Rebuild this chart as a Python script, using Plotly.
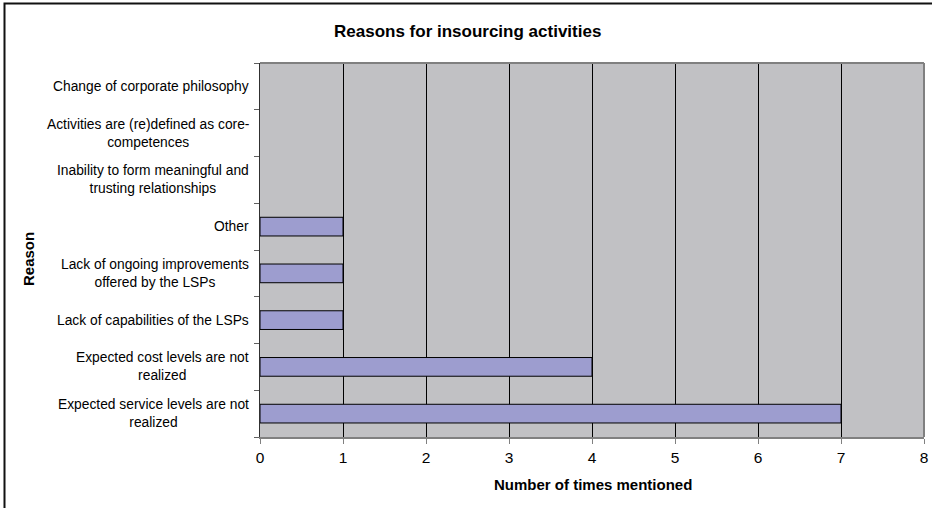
import plotly.graph_objects as go

# Reasons, listed bottom to top as they appear on the category axis
reasons = [
    "Expected service levels are not<br>realized",
    "Expected cost levels are not<br>realized",
    "Lack of capabilities of the LSPs",
    "Lack of ongoing improvements<br>offered by the LSPs",
    "Other",
    "Inability to form meaningful and<br>trusting relationships",
    "Activities are (re)defined as core-<br>competences",
    "Change of corporate philosophy",
]
mentions = [7, 4, 1, 1, 1, 0, 0, 0]
x_ticks = [0, 1, 2, 3, 4, 5, 6, 7, 8]

FONT = "Liberation Sans, Arial, sans-serif"
PLOT_L, PLOT_R, PLOT_T, PLOT_B = 260, 924, 63, 437
W, H = 932, 508
pw, ph = PLOT_R - PLOT_L, PLOT_B - PLOT_T


def px_to_paper_x(px):
    return (px - PLOT_L) / pw


def px_to_paper_y(py):
    return (PLOT_B - py) / ph


fig = go.Figure()
fig.add_trace(go.Bar(
    y=list(range(len(reasons))),
    x=mentions,
    orientation="h",
    width=0.4,
    marker=dict(
        color="#9D9DCF",
        line=dict(color="#000000", width=[1 if v > 0 else 0 for v in mentions]),
    ),
    hoverinfo="x",
))

# Category labels: centred multi-line text, right-aligned against the axis
annotations = []
for i, label in enumerate(reasons):
    annotations.append(dict(
        x=px_to_paper_x(251), xref="paper", y=i, yref="y",
        text=label, showarrow=False, xanchor="right", yanchor="middle",
        align="center", font=dict(family=FONT, size=13.8, color="#000000"),
    ))

# Chart title
annotations.append(dict(
    x=px_to_paper_x(467), xref="paper", y=px_to_paper_y(31), yref="paper",
    text="<b>Reasons for insourcing activities</b>", showarrow=False,
    xanchor="center", yanchor="middle",
    font=dict(family=FONT, size=17, color="#000000"),
))

# Axis titles
annotations.append(dict(
    x=px_to_paper_x(593), xref="paper", y=px_to_paper_y(484), yref="paper",
    text="<b>Number of times mentioned</b>", showarrow=False,
    xanchor="center", yanchor="middle",
    font=dict(family=FONT, size=15, color="#000000"),
))
annotations.append(dict(
    x=px_to_paper_x(28), xref="paper", y=px_to_paper_y(259), yref="paper",
    text="<b>Reason</b>", showarrow=False, textangle=-90,
    xanchor="center", yanchor="middle",
    font=dict(family=FONT, size=15, color="#000000"),
))

shapes = [
    # outer chart frame
    dict(type="rect", xref="paper", yref="paper",
         x0=px_to_paper_x(4.5), x1=px_to_paper_x(960),
         y0=px_to_paper_y(540), y1=px_to_paper_y(3.5),
         line=dict(color="#111111", width=2), layer="above"),
    # right edge of plot area
    dict(type="line", xref="paper", yref="paper", x0=1, x1=1, y0=0, y1=1,
         line=dict(color="#808080", width=2), layer="above"),
    # top edge of plot area
    dict(type="line", xref="paper", yref="paper", x0=0, x1=1, y0=1, y1=1,
         line=dict(color="#808080", width=2), layer="above"),
]

fig.update_layout(
    template="none",
    width=W, height=H,
    margin=dict(l=PLOT_L, r=W - PLOT_R, t=PLOT_T, b=H - PLOT_B, pad=0,
                autoexpand=False),
    paper_bgcolor="#FFFFFF",
    plot_bgcolor="#C1C1C4",
    showlegend=False,
    annotations=annotations,
    shapes=shapes,
    font=dict(family=FONT, color="#000000"),
    xaxis=dict(
        range=[0, 8], tickvals=x_ticks, ticktext=[str(v) for v in x_ticks],
        showgrid=True, gridcolor="#000000", gridwidth=1, zeroline=False,
        showline=True, linecolor="#808080", linewidth=2,
        ticks="outside", ticklen=5, tickcolor="#808080", tickwidth=1,
        tickfont=dict(family=FONT, size=15.5, color="#000000"),
        automargin=False, fixedrange=True,
    ),
    yaxis=dict(
        range=[-0.5, len(reasons) - 0.5],
        tickvals=[i - 0.5 for i in range(len(reasons) + 1)],
        showticklabels=False, showgrid=False, zeroline=False,
        showline=True, linecolor="#303030", linewidth=1,
        ticks="outside", ticklen=5, tickcolor="#606060", tickwidth=1,
        automargin=False, fixedrange=True,
    ),
)

fig.write_html("out.html")
